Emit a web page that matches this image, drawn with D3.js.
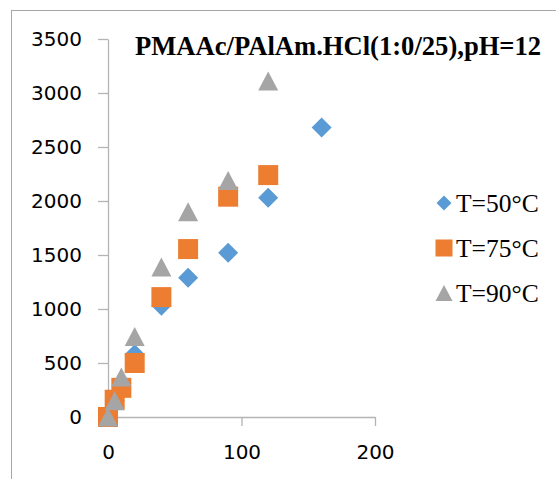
<!DOCTYPE html>
<html><head><meta charset="utf-8">
<script src="https://cdn.jsdelivr.net/npm/d3@7"></script>
<style>html,body{margin:0;padding:0;background:#fff;overflow:hidden}</style>
</head><body>
<svg id="c" width="556" height="479"></svg>
<script>
const title = "PMAAc/PAlAm.HCl(1:0/25),pH=12";
const seriesNames = ["T=50°C", "T=75°C", "T=90°C"];
const x50 = [0, 5, 10, 20, 40, 60, 90, 120, 160];
const y50 = [0, 150, 280, 580, 1030, 1290, 1520, 2030, 2680];
const x75 = [0, 5, 10, 20, 40, 60, 90, 120];
const y75 = [0, 160, 270, 500, 1110, 1555, 2040, 2240];
const x90 = [0, 5, 10, 20, 40, 60, 90, 120];
const y90 = [0, 150, 370, 745, 1390, 1900, 2190, 3110];
const xTicks = [0, 100, 200];
const yTicks = [0, 500, 1000, 1500, 2000, 2500, 3000, 3500];

const colors = ["#5b9bd5", "#ed7d31", "#a5a5a5"];
const shapes = ["diamond", "square", "triangle"];

const svg = d3.select("#c");
svg.append("rect").attr("x", 11.5).attr("y", 10.5).attr("width", 700).attr("height", 700)
  .attr("fill", "#fff").attr("stroke", "#a6a6a6").attr("stroke-width", 1);

const x = d3.scaleLinear().domain([0, 200]).range([108, 375]);
const y = d3.scaleLinear().domain([0, 3500]).range([417, 39]);

const axisColor = "#b4b4b4";
const gy = svg.append("g").attr("transform", `translate(${x(0)},0)`)
  .call(d3.axisLeft(y).tickValues(yTicks).tickFormat(d3.format("d")).tickSize(10).tickSizeOuter(0).tickPadding(16));
const gx = svg.append("g").attr("transform", `translate(0,${y(0)})`)
  .call(d3.axisBottom(x).tickValues(xTicks).tickFormat(d3.format("d")).tickSize(9).tickSizeOuter(0).tickPadding(19));
[gx, gy].forEach(g => {
  g.selectAll("path,line").attr("stroke", axisColor).attr("stroke-width", 1.3);
  g.selectAll("text").attr("fill", "#000").attr("font-family", "DejaVu Sans")
    .attr("font-size", 20);
});

function shapePath(kind, s) {
  const h = s / 2;
  if (kind === "diamond") return `M0,${-h}L${h},0L0,${h}L${-h},0Z`;
  if (kind === "square") return `M${-h},${-h}H${h}V${h}H${-h}Z`;
  const th = s * 0.95;
  return `M0,${-th / 2}L${h},${th / 2}L${-h},${th / 2}Z`;
}

const series = [
  { xs: x50, ys: y50 },
  { xs: x75, ys: y75 },
  { xs: x90, ys: y90 }
];
const markerSize = [20, 20, 20];
series.forEach((s, i) => {
  const pts = s.xs.map((v, j) => ({ x: v, y: s.ys[j] }));
  svg.append("g").selectAll("path").data(pts).join("path")
    .attr("d", shapePath(shapes[i], markerSize[i]))
    .attr("transform", d => `translate(${x(d.x)},${y(d.y)})`)
    .attr("fill", colors[i]);
});

svg.append("text").attr("x", 135).attr("y", 55)
  .attr("font-family", "Liberation Serif").attr("font-weight", "bold")
  .attr("font-size", 26.6).attr("fill", "#000").text(title);

const leg = svg.append("g");
seriesNames.forEach((n, i) => {
  const cy = 203 + i * 45;
  leg.append("path").attr("d", shapePath(shapes[i], shapes[i] === "diamond" ? 15 : 17))
    .attr("transform", `translate(444,${cy})`).attr("fill", colors[i]);
  leg.append("text").attr("x", 456).attr("y", cy + 9)
    .attr("font-family", "Liberation Serif").attr("font-size", 25.5)
    .attr("fill", "#000").text(n);
});
</script>
</body></html>
